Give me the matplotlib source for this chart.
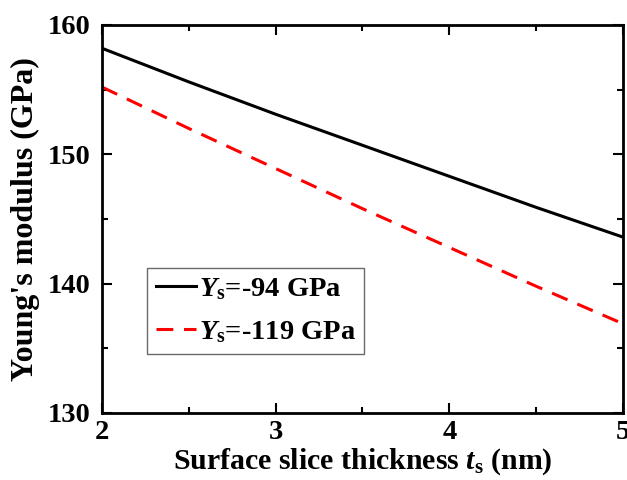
import numpy as np
import matplotlib
matplotlib.use("Agg")
import matplotlib.pyplot as plt
from matplotlib.ticker import MultipleLocator

plt.rcParams['font.family'] = ['Liberation Serif', 'DejaVu Serif']
plt.rcParams['font.weight'] = 'bold'
plt.rcParams['mathtext.fontset'] = 'custom'
plt.rcParams['mathtext.rm'] = 'Liberation Serif:bold'
plt.rcParams['mathtext.it'] = 'Liberation Serif:bold:italic'
plt.rcParams['mathtext.bf'] = 'Liberation Serif:bold'

# surface slice thickness (nm)
ts = [2.0, 2.5, 3.0, 3.5, 4.0, 4.5, 5.0]
# Young's modulus (GPa)
E_94 = [158.2, 155.6, 153.1, 150.7, 148.3, 145.9, 143.6]
E_119 = [155.2, 152.0, 148.9, 145.8, 142.8, 139.8, 136.9]
labels = [r'$Y_{\mathrm{s}}$=-94 GPa', r'$Y_{\mathrm{s}}$=-119 GPa']

fig = plt.figure(figsize=(6.27, 4.80), dpi=100)
ax = fig.add_axes([102 / 627, 1 - 413 / 480, 521 / 627, 388 / 480])

ax.plot(ts, E_94, color='black', lw=2.2, label=labels[0])
ax.plot(ts, E_119, color='red', lw=2.2, ls=(0, (5.5, 3.5)), label=labels[1])

ax.set_xlim(2, 5)
ax.set_ylim(130, 160)
ax.xaxis.set_major_locator(MultipleLocator(1))
ax.xaxis.set_minor_locator(MultipleLocator(0.5))
ax.yaxis.set_major_locator(MultipleLocator(10))
ax.yaxis.set_minor_locator(MultipleLocator(5))
ax.tick_params(which='both', direction='in', top=True, right=True, width=1.5, labelsize=20.5)
ax.tick_params(which='major', length=7)
ax.tick_params(which='minor', length=4)
ax.tick_params(axis='y', pad=8)
ax.tick_params(axis='x', pad=5)
for s in ax.spines.values():
    s.set_linewidth(2)

ax.set_xlabel(r'Surface slice thickness $t_{\mathrm{s}}$ (nm)', fontsize=21.5, fontweight='bold', labelpad=1)
ax.set_ylabel("Young's modulus (GPa)", fontsize=23, fontweight='bold', labelpad=6)

leg = ax.legend(loc='upper left', bbox_to_anchor=(0.087, 0.375), fontsize=20.5, frameon=True,
                fancybox=False, handlelength=1.4, handletextpad=0.1, borderpad=0.3,
                labelspacing=0.6, borderaxespad=0)
leg.get_frame().set_edgecolor('#444444')
leg.get_frame().set_linewidth(1)

fig.savefig('out.png', dpi=100)
